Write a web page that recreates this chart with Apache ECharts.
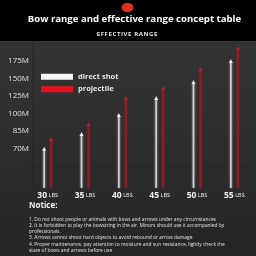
<!DOCTYPE html>
<html><head><meta charset="utf-8">
<script src="https://cdn.jsdelivr.net/npm/echarts@6/dist/echarts.min.js"></script>
<style>html,body{margin:0;padding:0;background:#000;}#c{width:256px;height:256px;}</style>
</head><body><div id="c"></div>
<script>
// Categories (draw weight)
var categories = ['30 LBS', '35 LBS', '40 LBS', '45 LBS', '50 LBS', '55 LBS'];
// Y tick labels at axis levels 1..6
var yTickLabels = ['70M', '85M', '100M', '125M', '150M', '175M'];
// Arrow heights in axis level units (1 = 70M ... 6 = 175M)
var directShot = [1.05, 1.89, 2.97, 3.94, 4.86, 6.05];
var projectile = [1.60, 2.46, 3.94, 4.51, 5.60, 6.80];
var seriesNames = ['direct shot', 'projectile'];
var titleText = 'Bow range and effective range concept table';
var subtitleText = 'EFFECTIVE RANGE';
var noticeLines = [
  '1. Do not shoot people or animals with bows and arrows under any circumstances',
  '2. It is forbidden to play the bowstring in the air. Minors should use it accompanied by',
  'professionals.',
  '3. Arrows cannot shoot hard objects to avoid rebound or arrow damage',
  '4. Proper maintenance, pay attention to moisture and sun resistance, lightly check the',
  'state of bows and arrows before use'
];

var Y_MIN = -1.25, Y_MAX = 7;
var chart = echarts.init(document.getElementById('c'), null, {renderer: 'canvas'});

function arrowRenderer(offset, lineColor, headColor, lw) {
  return function (params, api) {
    var top = api.coord([api.value(0), api.value(1)]);
    var base = api.coord([api.value(0), Y_MIN]);
    var x = top[0] + offset;
    return {
      type: 'group',
      children: [
        {type: 'line', shape: {x1: x, y1: base[1], x2: x, y2: top[1] + 2},
         style: {stroke: lineColor, lineWidth: lw, shadowBlur: 2, shadowColor: lineColor}},
        {type: 'polygon', shape: {points: [[x, top[1] - 1], [x - 2, top[1] + 3], [x + 2, top[1] + 3]]},
         style: {fill: headColor}}
      ]
    };
  };
}

var graphics = [
  {type: 'rect', shape: {x: 0, y: 41, width: 256, height: 215}, z: -10,
   style: {fill: new echarts.graphic.LinearGradient(0, 0, 0, 1, [
     {offset: 0, color: '#333333'}, {offset: 0.6, color: '#2c2c2c'}, {offset: 1, color: '#242424'}])}},
  {type: 'rect', shape: {x: 0, y: 0, width: 256, height: 41}, z: -9, style: {fill: '#000000'}},
  {type: 'ellipse', shape: {cx: 127.5, cy: 7.5, rx: 6, ry: 4.5}, style: {fill: '#e0301e'}},
  {type: 'line', shape: {x1: 33, y1: 41, x2: 33, y2: 188}, style: {stroke: '#242424', lineWidth: 1}},
  {type: 'text', x: 134.5, y: 19, style: {text: titleText, fill: '#ffffff', align: 'center', verticalAlign: 'middle',
    font: 'bold 9.6px "Open Sans"'}},
  {type: 'text', x: 127, y: 34, style: {text: subtitleText.split('').join('\u200A'), fill: '#e8e8e8',
    align: 'center', verticalAlign: 'middle', font: 'bold 6px "Open Sans"'}},
  {type: 'text', left: 29, top: 202, style: {text: 'Notice:', fill: '#f0f0f0', font: 'bold 8px "Open Sans"'}},
  {type: 'text', left: 29, top: 216, style: {text: noticeLines.join('\n'), fill: '#e0e0e0',
    font: '4.9px "Open Sans"', lineHeight: 6.3}}
];

chart.setOption({
  backgroundColor: '#2c2c2c',
  animation: false,
  legend: {
    orient: 'vertical', left: 41, top: 71, itemGap: 1, padding: 0,
    itemWidth: 32, itemHeight: 6, icon: 'rect', itemStyle: {borderWidth: 0},
    textStyle: {color: '#e6e6e6', fontSize: 7.5, fontWeight: 'bold', fontFamily: 'Open Sans', lineHeight: 11.5},
    data: [
      {name: seriesNames[0], itemStyle: {color: '#f4f4f4'}},
      {name: seriesNames[1], itemStyle: {color: '#e8101e'}}
    ]
  },
  grid: {left: 29, right: 3, top: 43.4, bottom: 68},
  xAxis: {
    type: 'category', data: categories,
    axisLine: {show: true, lineStyle: {color: '#262626'}},
    axisTick: {show: false},
    axisLabel: {margin: 3, interval: 0,
      formatter: function (v) { var p = v.split(' '); return '{a|' + p[0] + '}{b|' + p[1] + '}'; },
      rich: {a: {color: '#f2f2f2', fontSize: 8.5, fontFamily: 'Open Sans', fontWeight: 'bold', padding: [0, 1.5, 0, 0]},
             b: {color: '#f2f2f2', fontSize: 5.5, fontFamily: 'Open Sans'}}}
  },
  yAxis: {
    type: 'value', min: Y_MIN, max: Y_MAX, interval: 0.25,
    offset: -4,
    splitLine: {show: false}, axisTick: {show: false},
    axisLine: {show: false},
    axisLabel: {margin: 4, color: '#e0e0e0', fontSize: 8, fontFamily: 'Open Sans',
      formatter: function (v) {
        var r = Math.round(v);
        if (Math.abs(v - r) < 1e-6 && r >= 1 && r <= yTickLabels.length) return yTickLabels[r - 1];
        return '';
      }}
  },
  graphic: graphics,
  series: [
    {name: seriesNames[0], type: 'custom', itemStyle: {color: '#f4f4f4'},
     renderItem: arrowRenderer(-3.5, '#cfd3d3', '#f0f0f0', 1.5),
     encode: {x: 0, y: 1},
     data: directShot.map(function (v, i) { return [i, v]; })},
    {name: seriesNames[1], type: 'custom', itemStyle: {color: '#e8101e'},
     renderItem: arrowRenderer(3.5, '#8c1c24', '#b8202a', 2),
     encode: {x: 0, y: 1},
     data: projectile.map(function (v, i) { return [i, v]; })}
  ]
});
</script></body></html>
